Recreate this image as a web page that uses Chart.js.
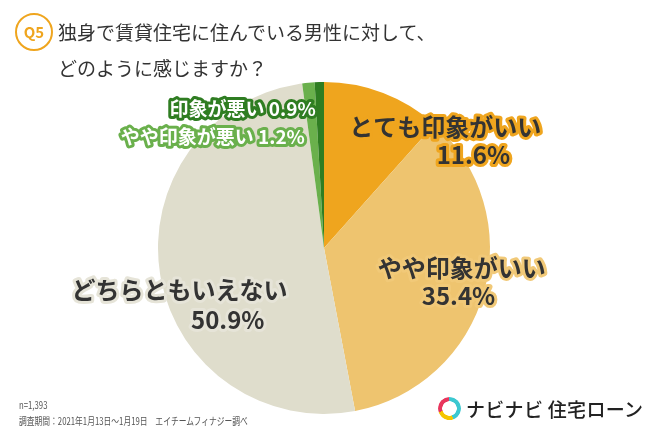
<!DOCTYPE html>
<html lang="ja">
<head>
<meta charset="utf-8">
<script src="https://cdn.jsdelivr.net/npm/chart.js@4/dist/chart.umd.min.js"></script>
<style>
  body { margin: 0; background: #fff; font-family: "Noto Sans CJK JP", sans-serif; }
  #wrap { position: relative; width: 650px; height: 434px; overflow: hidden; }
  #grafico { position: absolute; left: 0; top: 0; }
  .q { position: absolute; left: 15px; top: 13px; width: 34px; height: 34px; border: 2px solid #efa51e;
       border-radius: 50%; color: #efa51e; font: 700 15px "Noto Sans CJK JP"; text-align: center; line-height: 34px; }
  .titulo { position: absolute; left: 58px; top: 14px; font: 400 19px/36px "Noto Sans CJK JP"; color: #333; }
  .nota { position: absolute; left: 19px; top: 397px; font: 400 10.5px/16px "Noto Sans CJK JP"; color: #555;
          transform: scaleX(0.74); transform-origin: left top; white-space: nowrap; }
  .logo { position: absolute; left: 438px; top: 394px; height: 28px; display: flex; align-items: center; }
  .icono { width: 15px; height: 15px; border-radius: 50%; border: 4px solid transparent;
           background: conic-gradient(#3cc8d0 0deg 160deg, #f5c400 160deg 250deg, #e8365d 250deg 360deg) border-box;
           -webkit-mask: radial-gradient(circle, transparent 7px, #000 7.5px); mask: radial-gradient(circle, transparent 7px, #000 7.5px); }
  .marca { margin-left: 5px; font: 500 19px "Noto Sans CJK JP"; color: #222; letter-spacing: 0.3px; }
</style>
</head>
<body>
<div id="wrap">
  <canvas id="grafico" width="650" height="434"></canvas>
  <div class="q">Q5</div>
  <div class="titulo">独身で賃貸住宅に住んでいる男性に対して、<br>どのように感じますか？</div>
  <div class="nota">n=1,393<br>調査期間：2021年1月13日～1月19日　エイチームフィナジー調べ</div>
  <div class="logo"><div class="icono"></div><span class="marca">ナビナビ 住宅ローン</span></div>
</div>
<script>
// datos del gráfico
const categorias = ['とても印象がいい', 'やや印象がいい', 'どちらともいえない', 'やや印象が悪い', '印象が悪い'];
const porcentajes = [11.6, 35.4, 50.9, 1.2, 0.9];
const colores = ['#efa51e', '#eec46f', '#dfddcc', '#6ab04c', '#2f7d22'];

// posición de cada etiqueta en unidades del radio, respecto al centro de la torta
const etiquetas = [
  { lineas: [[categorias[0], 0.73, -0.73], [porcentajes[0] + '%', 0.90, -0.56]], size: 24, fill: '#333', stroke: '#efa51e' },
  { lineas: [[categorias[1], 0.83, 0.12], [porcentajes[1] + '%', 0.81, 0.29]], size: 24, fill: '#333', stroke: '#f1c978' },
  { lineas: [[categorias[2], -0.87, 0.25], [porcentajes[2] + '%', -0.58, 0.43]], size: 24, fill: '#333', stroke: '#e6e4d8' },
  { lineas: [[categorias[3] + ' ' + porcentajes[3] + '%', -0.67, -0.67]], size: 19, fill: '#fff', stroke: '#6ab04c' },
  { lineas: [[categorias[4] + ' ' + porcentajes[4] + '%', -0.49, -0.84]], size: 19, fill: '#fff', stroke: '#2f7d22' }
];

const pluginEtiquetas = {
  id: 'etiquetas',
  afterDraw(chart) {
    const ctx = chart.ctx;
    const arco = chart.getDatasetMeta(0).data[0];
    const cx = arco.x, cy = arco.y, r = arco.outerRadius;
    ctx.save();
    ctx.textAlign = 'center';
    ctx.textBaseline = 'middle';
    ctx.lineJoin = 'round';
    etiquetas.forEach(e => {
      ctx.font = '700 ' + e.size + 'px "Noto Sans CJK JP"';
      e.lineas.forEach(([txt, dx, dy]) => {
        const x = cx + dx * r, y = cy + dy * r;
        ctx.lineWidth = 6;
        ctx.strokeStyle = e.stroke;
        ctx.strokeText(txt, x, y);
        ctx.fillStyle = e.fill;
        ctx.fillText(txt, x, y);
      });
    });
    ctx.restore();
  }
};

new Chart(document.getElementById('grafico'), {
  type: 'pie',
  data: {
    labels: categorias,
    datasets: [{
      data: porcentajes,
      backgroundColor: colores,
      borderWidth: 0
    }]
  },
  options: {
    responsive: false,
    animation: false,
    layout: { padding: { top: 82, bottom: 20, left: 100, right: 102 } },
    plugins: {
      legend: { display: false },
      tooltip: { enabled: false }
    }
  },
  plugins: [pluginEtiquetas]
});
</script>
</body>
</html>
